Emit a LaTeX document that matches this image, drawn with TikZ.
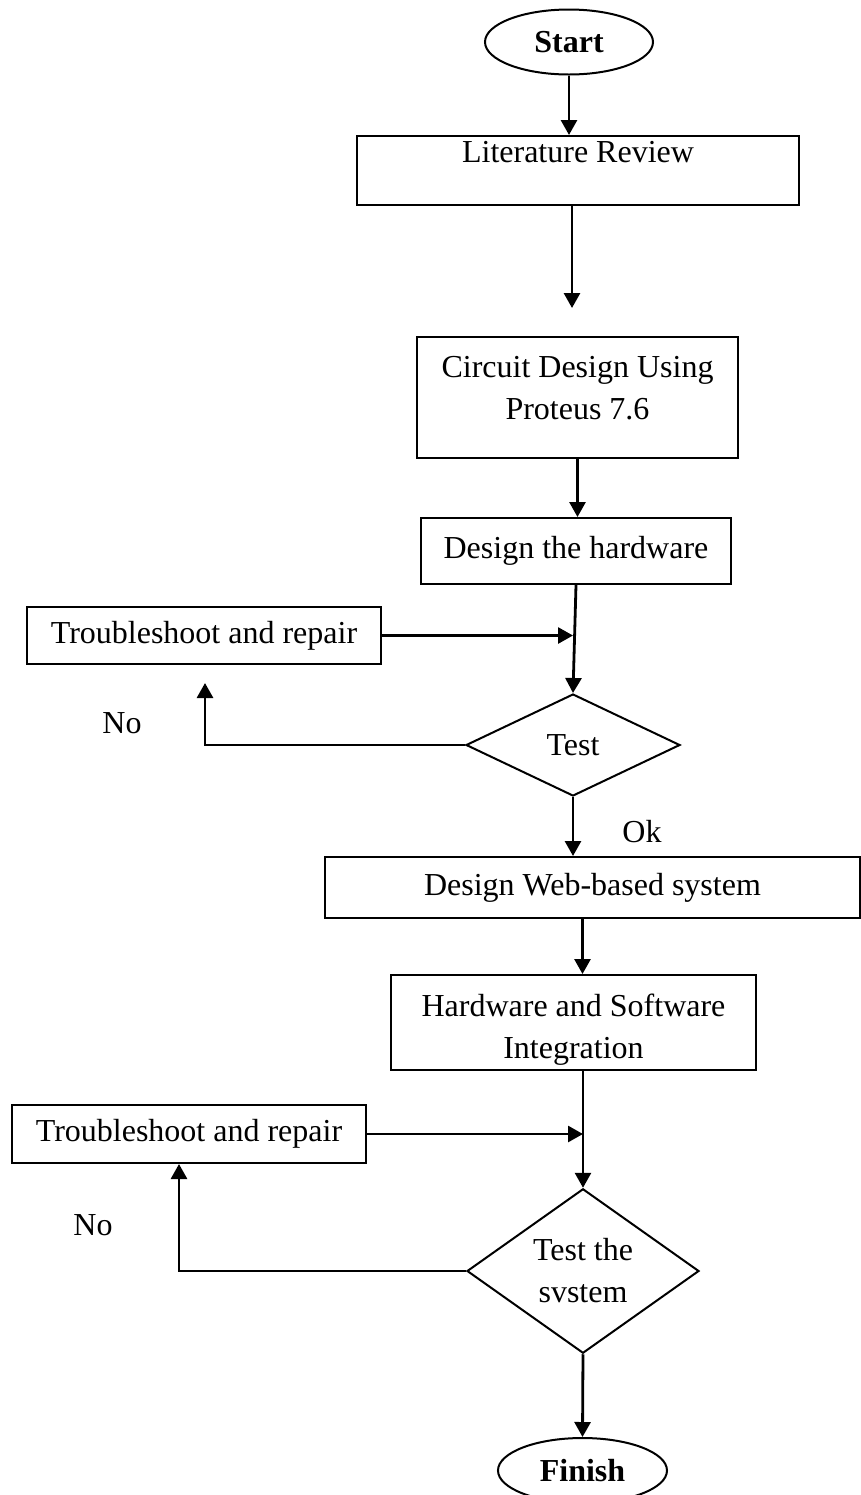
\documentclass[tikz,border=0pt]{standalone}
\usepackage{fontspec}
\setmainfont{Liberation Serif}
\usetikzlibrary{shapes.geometric,arrows.meta}

\begin{document}
\begin{tikzpicture}[x=0.5pt, y=-0.5pt,
    every node/.style={font=\fontsize{16}{21}\selectfont, inner sep=0pt},
    box/.style={rectangle, draw, line width=1pt, align=center},
    decision/.style={diamond, draw, line width=1pt, align=center},
    terminal/.style={ellipse, draw, line width=1pt, font=\fontsize{16}{21}\selectfont\bfseries},
    flow/.style={line width=1.4pt, -{Triangle[width=8pt,length=7.5pt]}}]
        \useasboundingbox (0,0) rectangle (861,1495);

        % Nodes
        \node[terminal, minimum width=84pt, minimum height=32.5pt] (start) at (569,42) {Start};
        \node[box, anchor=north, minimum width=221pt, text height=13pt, text depth=21.5pt] (lit) at (578,135) {Literature Review};
        \node[box, anchor=north, minimum width=160.5pt, text height=41pt, text depth=19.5pt] (circ) at (577.5,336) {Circuit Design Using\\Proteus 7.6};
        \node[box, minimum width=155pt, minimum height=33pt] (hw) at (576,551) {Design the hardware};
        \node[box, minimum width=177pt, minimum height=28.5pt] (tr1) at (204,635.5) {Troubleshoot and repair};
        \node[decision, minimum width=107pt, minimum height=51pt] (test1) at (573,745) {Test};
        \node (no1) at (122,723) {No};
        \node (ok) at (642,832) {Ok};
        \node[box, minimum width=267.5pt, minimum height=30.5pt] (web) at (592.5,887.5) {Design Web-based system};
        \node[box, anchor=north, minimum width=182.5pt, text height=41.5pt, text depth=6pt] (hsi) at (573.5,974) {Hardware and Software\\Integration};
        \node[box, minimum width=177pt, minimum height=29pt] (tr2) at (189,1134) {Troubleshoot and repair};
        \node[decision, minimum width=116pt, minimum height=75.5pt] (test2) at (583,1271) {Test the\\svstem};
        \node (no2) at (93,1225) {No};
        \node[terminal, minimum width=84.5pt, minimum height=32.5pt] (finish) at (582.5,1470.5) {Finish};

        \coordinate (c1) at (572,308);
        \coordinate (n1) at (205,683);

        % Edges
        \draw[flow] (start.south) -- (start.south |- lit.north);
        \draw[flow] (c1 |- lit.south) -- (c1);
        \draw[flow] (circ.south) -- (circ.south |- hw.north);
        \draw[flow] (hw.south) -- (test1.north);
        \draw[flow] (tr1.east) -- (tr1.east -| test1.north);
        \draw[flow] (test1.west) -| (n1);
        \draw[flow] (test1.south) -- (test1.south |- web.north);
        \draw[flow] ([xshift=-5pt]web.south) -- ([xshift=-5pt]web.south |- hsi.north);
        \draw[flow] (hsi.south -| test2.north) -- (test2.north);
        \draw[flow] (tr2.east) -- (tr2.east -| test2.north);
        \draw[flow] (test2.west) -| ([xshift=-5pt]tr2.south);
        \draw[flow] (test2.south) -- (finish.north);
    \end{tikzpicture}
\end{document}
